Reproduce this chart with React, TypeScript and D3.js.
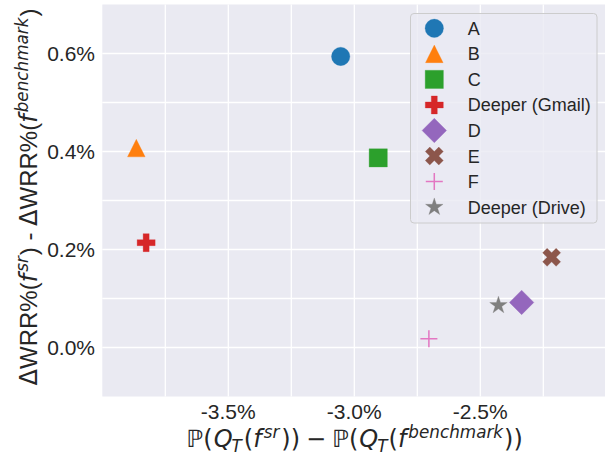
import React from "react";
import * as d3 from "d3";

const names = ["A", "B", "C", "Deeper (Gmail)", "D", "E", "F", "Deeper (Drive)"];
const xVals = [-3.054, -3.865, -2.905, -3.826, -2.336, -2.217, -2.704, -2.428];
const yVals = [0.594, 0.407, 0.387, 0.214, 0.092, 0.184, 0.018, 0.086];
const colors = ["#1f77b4", "#ff7f0e", "#2ca02c", "#d62728", "#9467bd", "#8c564b", "#e377c2", "#7f7f7f"];
const markers = ["circle", "triangle", "square", "plusFilled", "diamond", "xFilled", "plus", "star"];
const xTicks = [-3.5, -3.0, -2.5];
const yTicks = [0.0, 0.2, 0.4, 0.6];
const xGrid = [-3.75, -3.5, -3.25, -3.0, -2.75, -2.5, -2.25];
const yGrid = [0.0, 0.1, 0.2, 0.3, 0.4, 0.5, 0.6];

const W = 605, H = 455;
const left = 102.3, right = 606.3, top = 4.5, bottom = 396.5;

const triangleType = { draw(ctx: any, s: number) { const h = Math.sqrt(s) / 2; ctx.moveTo(0, -h); ctx.lineTo(h, h); ctx.lineTo(-h, h); ctx.closePath(); } };
const squareType = { draw(ctx: any, s: number) { const h = Math.sqrt(s) / 2; ctx.rect(-h, -h, 2 * h, 2 * h); } };
const diamondType = { draw(ctx: any, s: number) { const h = Math.sqrt(s) / 2; ctx.moveTo(0, -h); ctx.lineTo(h, 0); ctx.lineTo(0, h); ctx.lineTo(-h, 0); ctx.closePath(); } };
function crossPts(a: number, b: number, rot: number) {
  const pts = [[-b, -a], [b, -a], [b, -b], [a, -b], [a, b], [b, b], [b, a], [-b, a], [-b, b], [-a, b], [-a, -b], [-b, -b]];
  const c = Math.cos(rot), sn = Math.sin(rot);
  return pts.map(([x, y]) => [x * c - y * sn, x * sn + y * c]);
}
const plusFilledType = { draw(ctx: any, s: number) { const a = Math.sqrt(s) / 2; const p = crossPts(a, a / 3, 0); ctx.moveTo(p[0][0], p[0][1]); p.slice(1).forEach((q) => ctx.lineTo(q[0], q[1])); ctx.closePath(); } };
const xFilledType = { draw(ctx: any, s: number) { const a = Math.sqrt(s) / 2; const p = crossPts(a, a / 3, Math.PI / 4); ctx.moveTo(p[0][0], p[0][1]); p.slice(1).forEach((q) => ctx.lineTo(q[0], q[1])); ctx.closePath(); } };
const plusType = { draw(ctx: any, s: number) { const h = Math.sqrt(s) / 2; ctx.moveTo(-h, 0); ctx.lineTo(h, 0); ctx.moveTo(0, -h); ctx.lineTo(0, h); } };

function markerPath(m: string): string {
  switch (m) {
    case "circle": return d3.symbol().type(d3.symbolCircle).size(Math.PI * 9.2 * 9.2)()!;
    case "triangle": return d3.symbol().type(triangleType as any).size(17.6 * 17.6)()!;
    case "square": return d3.symbol().type(squareType as any).size(18.2 * 18.2)()!;
    case "plusFilled": return d3.symbol().type(plusFilledType as any).size(18 * 18)()!;
    case "diamond": return d3.symbol().type(diamondType as any).size(24.5 * 24.5)()!;
    case "xFilled": return d3.symbol().type(xFilledType as any).size(19.1 * 19.1)()!;
    case "plus": return d3.symbol().type(plusType as any).size(17 * 17)()!;
    case "star": return d3.symbol().type(d3.symbolStar).size((9.2 * 9.2) / 0.8908130915)()!;
  }
  return "";
}

function Marker({ m, color, x, y }: { m: string; color: string; x: number; y: number }) {
  const d = markerPath(m);
  if (m === "plus") return <path d={d} transform={`translate(${x},${y})`} fill="none" stroke={color} strokeWidth={1.5} />;
  return <path d={d} transform={`translate(${x},${y})`} fill={color} stroke={color} strokeWidth={0.3} />;
}

export default function App() {
  const x = d3.scaleLinear().domain([-4.0, -2.0]).range([left, right]);
  const y = d3.scaleLinear().domain([-0.1, 0.7]).range([bottom, top]);
  const text = "#262626";
  const sans = "'Liberation Sans', Arial, sans-serif";
  const math = "'DejaVu Sans', sans-serif";
  const lf = 24;
  const sup = lf * 0.7;
  const up = lf * 0.37;
  const down = lf * 0.2;
  const legendRowY = (i: number) => 28.3 + i * 25.55;
  return (
    <svg width={W} height={H} style={{ position: "absolute", left: 0, top: 0 }} xmlns="http://www.w3.org/2000/svg">
      <rect x={0} y={0} width={W} height={H} fill="#ffffff" />
      <rect x={left} y={top} width={W - left} height={bottom - top} fill="#EAEAF2" />
      {xGrid.map((v) => (
        <line key={"xg" + v} x1={x(v)} x2={x(v)} y1={top} y2={bottom} stroke="#ffffff" strokeWidth={1.3} />
      ))}
      {yGrid.map((v) => (
        <line key={"yg" + v} x1={left} x2={W} y1={y(v)} y2={y(v)} stroke="#ffffff" strokeWidth={1.3} />
      ))}
      {names.map((n, i) => (
        <Marker key={"p" + n} m={markers[i]} color={colors[i]} x={x(xVals[i])} y={y(yVals[i])} />
      ))}
      {xTicks.map((v) => (
        <text key={"xt" + v} x={x(v)} y={419} textAnchor="middle" fontFamily={sans} fontSize={21} fill={text}>
          {v.toFixed(1) + "%"}
        </text>
      ))}
      {yTicks.map((v) => (
        <text key={"yt" + v} x={95} y={y(v)} dy="0.36em" textAnchor="end" fontFamily={sans} fontSize={21} fill={text}>
          {v.toFixed(1) + "%"}
        </text>
      ))}
      {/* legend */}
      <rect x={410.5} y={13.5} width={186.5} height={209.5} rx={3.5} fill="#EAEAF2" fillOpacity={0.8} stroke="#cccccc" strokeWidth={1} />
      {names.map((n, i) => (
        <g key={"l" + n}>
          <Marker m={markers[i]} color={colors[i]} x={434.3} y={legendRowY(i)} />
          <text x={467.7} y={legendRowY(i)} dy="0.36em" fontFamily={sans} fontSize={18} fill={text}>{n}</text>
        </g>
      ))}
      {/* y label */}
      <text transform="translate(37,197) rotate(-90)" textAnchor="middle" fontFamily={sans} fontSize={lf} fill={text}>
        <tspan fontFamily={math}>Δ</tspan>
        <tspan>WRR%(</tspan>
        <tspan fontFamily={math} fontStyle="italic">f</tspan>
        <tspan fontFamily={math} fontStyle="italic" fontSize={sup} dx={2} dy={-up}>sr</tspan>
        <tspan dx={1} dy={up}>) - </tspan>
        <tspan fontFamily={math}>Δ</tspan>
        <tspan>WRR%(</tspan>
        <tspan fontFamily={math} fontStyle="italic">f</tspan>
        <tspan fontFamily={math} fontStyle="italic" fontSize={sup} dx={2} dy={-up}>benchmark</tspan>
        <tspan dx={1} dy={up}>)</tspan>
      </text>
      {/* x label */}
      <text x={(left + W) / 2 + 1} y={447} textAnchor="middle" fontFamily={math} fontSize={lf} fill={text}>
        <tspan>ℙ(</tspan>
        <tspan fontStyle="italic" dx={1}>Q</tspan>
        <tspan fontStyle="italic" fontSize={sup} dx={-1} dy={down}>T</tspan>
        <tspan dx={2} dy={-down}>(</tspan>
        <tspan fontStyle="italic">f</tspan>
        <tspan fontStyle="italic" fontSize={sup} dx={2} dy={-up}>sr</tspan>
        <tspan dx={2} dy={up}>))</tspan>
        <tspan dx={6}>−</tspan>
        <tspan dx={6}>ℙ(</tspan>
        <tspan fontStyle="italic" dx={1}>Q</tspan>
        <tspan fontStyle="italic" fontSize={sup} dx={-1} dy={down}>T</tspan>
        <tspan dx={1} dy={-down}>(</tspan>
        <tspan fontStyle="italic">f</tspan>
        <tspan fontStyle="italic" fontSize={sup} dx={2} dy={-up}>benchmark</tspan>
        <tspan dx={1} dy={up}>))</tspan>
      </text>
    </svg>
  );
}
